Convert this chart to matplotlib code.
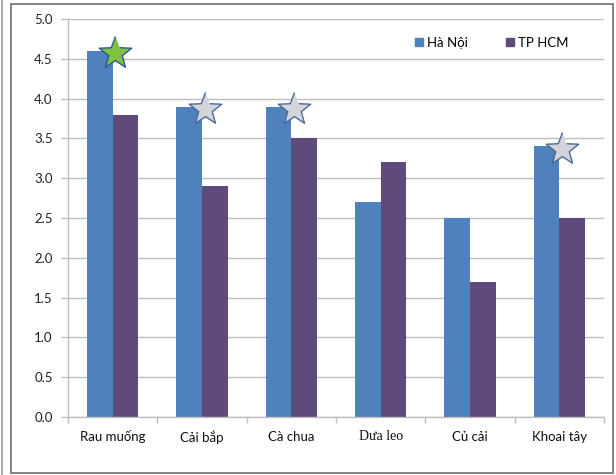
import matplotlib
matplotlib.use("Agg")
import matplotlib.pyplot as plt
from matplotlib.lines import Line2D
from matplotlib.patches import Rectangle
import numpy as np

categories = ["Rau muống", "Cải bắp", "Cà chua", "Dưa leo", "Củ cải", "Khoai tây"]
ha_noi = [4.6, 3.9, 3.9, 2.7, 2.5, 3.4]
tp_hcm = [3.8, 2.9, 3.5, 3.2, 1.7, 2.5]
series_names = ["Hà Nội", "TP HCM"]
# highlighted Hà Nội bars: category index -> star colour
stars = {0: "#7DC241", 1: "#D4D5DA", 2: "#D4D5DA", 5: "#D4D5DA"}
y_ticks = [0.0, 0.5, 1.0, 1.5, 2.0, 2.5, 3.0, 3.5, 4.0, 4.5, 5.0]

BLUE = "#4F81BD"
PURPLE = "#604A7B"
GRID = "#BEBEBE"

W, H = 616, 475
fig = plt.figure(figsize=(W / 100, H / 100), dpi=100)
ax = fig.add_axes([68 / W, 1 - 417 / H, (604 - 68) / W, (417 - 19) / H])

x = np.arange(len(categories))
bw = 0.286
ax.bar(x - bw / 2, ha_noi, width=bw, color=BLUE, label=series_names[0], zorder=2)
ax.bar(x + bw / 2, tp_hcm, width=bw, color=PURPLE, label=series_names[1], zorder=2)

# five-pointed star with slightly fuller arms
ang = np.pi / 2 + np.arange(10) * np.pi / 5
rad = np.where(np.arange(10) % 2 == 0, 1.0, 0.42)
star_verts = np.column_stack([rad * np.cos(ang), rad * np.sin(ang)])

for i, col in stars.items():
    edge = "#2F5597" if i == 0 else "#4A6A9A"
    ax.plot(i + 0.03, ha_noi[i] - 0.03, marker=star_verts, markersize=24.5,
            markerfacecolor=col, markeredgecolor=edge, markeredgewidth=1.0,
            zorder=4, clip_on=False)

ax.set_xlim(-0.5, len(categories) - 0.5)
ax.set_ylim(0, 5)
ax.set_yticks(y_ticks)
ax.set_yticklabels([f"{v:.1f}" for v in y_ticks], fontsize=9.5,
                   family=["Lato", "DejaVu Sans"], color="#222222")
ax.yaxis.grid(True, color=GRID, linewidth=1.0, zorder=0)
ax.set_axisbelow(True)

ax.set_xticks(np.arange(len(categories) + 1) - 0.5)
ax.set_xticklabels([])
ax.tick_params(axis="x", length=4, color=GRID, width=1.0)
ax.tick_params(axis="y", length=5, color=GRID, width=1.0, pad=6)
for i, name in enumerate(categories):
    fam = ["Liberation Serif"] if name == "Dưa leo" else ["Lato", "DejaVu Sans"]
    ax.text(i, -0.25, name, ha="center", va="center", fontsize=9.5 if name != "Dưa leo" else 10,
            family=fam, color="#111111", transform=ax.transData, clip_on=False)

for s in ["top", "right"]:
    ax.spines[s].set_visible(False)
for s in ["left", "bottom"]:
    ax.spines[s].set_color(GRID)
    ax.spines[s].set_linewidth(1.0)

handles = [Rectangle((0, 0), 1, 1, color=BLUE), Rectangle((0, 0), 1, 1, color=PURPLE)]
ax.legend(handles, series_names, loc="upper left", bbox_to_anchor=(0.625, 0.985),
          ncol=2, frameon=False, handlelength=0.6, handleheight=0.6,
          handletextpad=0.3, columnspacing=2.9,
          prop={"family": ["Lato", "DejaVu Sans"], "size": 9.5})

# outer frames
fig.add_artist(Line2D([2.5 / W, 2.5 / W], [0, 1], color="#9A9A9A", linewidth=1.2))
fig.add_artist(Rectangle((11 / W, 1 - 473 / H), (613 - 11) / W, (473 - 4) / H,
                         fill=False, edgecolor="#6E6E6E", linewidth=1.2))

fig.savefig("out.png", dpi=100)
